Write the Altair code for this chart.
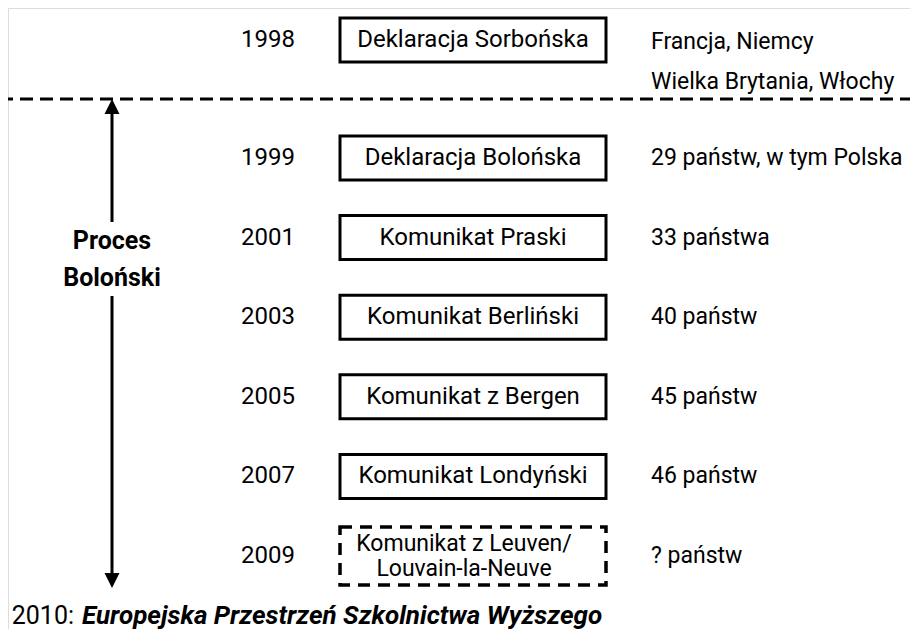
import altair as alt
import pandas as pd

# ---- content ----
years = ["1998", "1999", "2001", "2003", "2005", "2007", "2009"]
events = ["Deklaracja Sorbońska", "Deklaracja Bolońska", "Komunikat Praski",
          "Komunikat Berliński", "Komunikat z Bergen", "Komunikat Londyński",
          "Komunikat z Leuven/\nLouvain-la-Neuve"]
members = ["Francja, Niemcy\nWielka Brytania, Włochy", "29 państw, w tym Polska",
           "33 państwa", "40 państw", "45 państw", "46 państw", "? państw"]
box_kind = ["solid", "solid", "solid", "solid", "solid", "solid", "dashed"]
side_label = "Proces\nBoloński"
bottom_year = "2010:"
bottom_label = "Europejska Przestrzeń Szkolnictwa Wyższego"

# ---- layout (page pixels) ----
row_y = [40, 158, 237.6, 317.2, 396.8, 476.4, 556]
box_half = [22, 22, 22, 22, 22, 22, 29]
event_dy = [0, 0, 0, 0, 0, 0, -12]
members_dy = [2, 0, 0, 0, 0, 0, 0]
FONT = "Roboto, Liberation Sans, sans-serif"
FS = 24

df = pd.DataFrame({
    "year": years, "event": events, "members": members, "kind": box_kind,
    "y": row_y,
    "top": [y - h for y, h in zip(row_y, box_half)],
    "bottom": [y + h for y, h in zip(row_y, box_half)],
    "ey": [y + d for y, d in zip(row_y, event_dy)],
    "my": [y + d for y, d in zip(row_y, members_dy)],
    "x_year": 268, "x1": 340, "x2": 606, "x_event": [473] * 6 + [464], "x_mem": 651,
})

xs = alt.Scale(domain=[8, 910], nice=False, zero=False)
ys = alt.Scale(domain=[8, 629], nice=False, zero=False, reverse=True)
X = lambda f: alt.X(f, scale=xs, axis=None)
Y = lambda f: alt.Y(f, scale=ys, axis=None)

base = alt.Chart(df)

solid_boxes = base.transform_filter(alt.datum.kind == "solid").mark_rect(
    fill="white", stroke="black", strokeWidth=3
).encode(x=X("x1:Q"), x2="x2:Q", y=Y("top:Q"), y2="bottom:Q")

dashed_box = base.transform_filter(alt.datum.kind == "dashed").mark_rect(
    fill="white", stroke="black", strokeWidth=3.5, strokeDash=[12, 8]
).encode(x=X("x1:Q"), x2="x2:Q", y=Y("top:Q"), y2="bottom:Q")

year_text = base.mark_text(font=FONT, fontSize=FS, align="center", baseline="middle",
                           color="black").encode(x=X("x_year:Q"), y=Y("y:Q"), text="year:N")

event_solid = base.transform_filter(alt.datum.kind == "solid").mark_text(
    font=FONT, fontSize=FS, align="center", baseline="middle", color="black"
).encode(x=X("x_event:Q"), y=Y("ey:Q"), text="event:N")

event_dashed = base.transform_filter(alt.datum.kind == "dashed").mark_text(
    font=FONT, fontSize=FS - 1, align="center", baseline="middle", color="black",
    lineBreak="\n", lineHeight=25
).encode(x=X("x_event:Q"), y=Y("ey:Q"), text="event:N")

member_text = base.mark_text(font=FONT, fontSize=23, align="left", baseline="middle",
                             color="black", lineBreak="\n", lineHeight=40
).encode(x=X("x_mem:Q"), y=Y("my:Q"), text="members:N")

# dashed separator
sep = pd.DataFrame({"x": [0], "x2": [918], "y": [99]})
sep_rule = alt.Chart(sep).mark_rule(strokeWidth=3, strokeDash=[13, 7], color="black").encode(
    x=X("x:Q"), x2="x2:Q", y=Y("y:Q"))

# arrow
ax = 112
segs = pd.DataFrame({"x": [ax, ax], "y": [106, 296], "y2": [222, 581]})
arrow_rules = alt.Chart(segs).mark_rule(strokeWidth=3, color="black").encode(
    x=X("x:Q"), y=Y("y:Q"), y2="y2:Q")
heads = pd.DataFrame({"x": [ax, ax], "y": [106.5, 580.5], "dir": ["up", "down"]})
head_up = alt.Chart(heads).transform_filter(alt.datum.dir == "up").mark_point(
    shape="M-1,1L1,1L0,-1Z", size=225, filled=True, color="black", opacity=1
).encode(x=X("x:Q"), y=Y("y:Q"))
head_down = alt.Chart(heads).transform_filter(alt.datum.dir == "down").mark_point(
    shape="M-1,-1L1,-1L0,1Z", size=225, filled=True, color="black", opacity=1
).encode(x=X("x:Q"), y=Y("y:Q"))

side = pd.DataFrame({"x": [ax], "y": [241], "t": [side_label]})
side_text = alt.Chart(side).mark_text(font=FONT, fontSize=25, fontWeight="bold",
                                      align="center", baseline="middle", lineBreak="\n",
                                      lineHeight=37, color="black").encode(
    x=X("x:Q"), y=Y("y:Q"), text="t:N")

bottom = pd.DataFrame({"x": [74, 82], "y": [616, 616], "t": [bottom_year, bottom_label],
                       "part": ["year", "label"]})
bottom_year_t = alt.Chart(bottom).transform_filter(alt.datum.part == "year").mark_text(
    font=FONT, fontSize=25, align="right", baseline="middle", color="black").encode(
    x=X("x:Q"), y=Y("y:Q"), text="t:N")
bottom_label_t = alt.Chart(bottom).transform_filter(alt.datum.part == "label").mark_text(
    font=FONT, fontSize=26, fontWeight="bold", fontStyle="italic", align="left",
    baseline="middle", color="black").encode(x=X("x:Q"), y=Y("y:Q"), text="t:N")

chart = alt.layer(
    sep_rule, arrow_rules, head_up, head_down, side_text,
    solid_boxes, dashed_box, year_text, event_solid, event_dashed, member_text,
    bottom_year_t, bottom_label_t
).properties(width=902, height=621, padding=0, autosize=alt.AutoSizeParams(type="none")
).configure_view(stroke=None).configure(background="white")

chart.save("out.html", embed_options={"renderer": "svg", "actions": False})
